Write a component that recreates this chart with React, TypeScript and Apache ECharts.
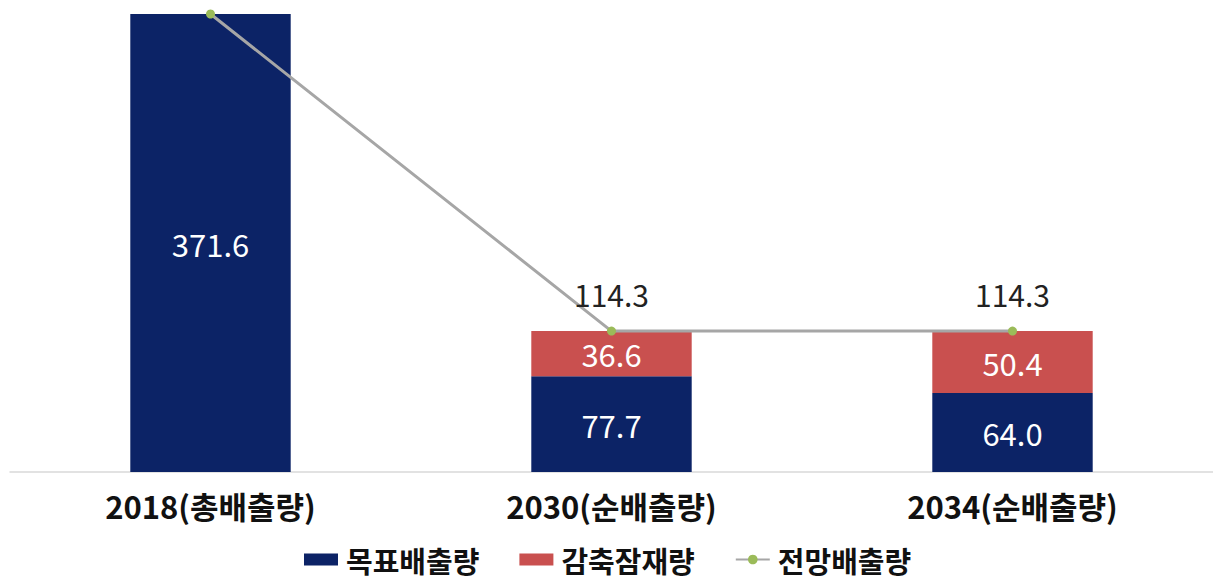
import React, { useEffect, useRef } from "react";
import * as echarts from "echarts";

const categories = ["2018(총배출량)", "2030(순배출량)", "2034(순배출량)"];
const targetEmission = [371.6, 77.7, 64.0];
const reductionPotential = [null, 36.6, 50.4];
const projectedEmission = [371.6, 114.3, 114.3];
const projectedLabelShown = [false, true, true];

const FONT = "'Noto Sans CJK KR', 'Noto Sans', sans-serif";

export default function App() {
  const ref = useRef<HTMLDivElement>(null);
  useEffect(() => {
    if (!ref.current) return;
    const chart = echarts.init(ref.current, null, { renderer: "svg" });
    const barLabel = {
      show: true,
      position: "inside",
      color: "#ffffff",
      fontSize: 31,
      fontFamily: FONT,
      fontWeight: "normal",
      formatter: (p: any) => (p.value == null ? "" : Number(p.value).toFixed(1)),
    };
    chart.setOption({
      animation: false,
      backgroundColor: "#ffffff",
      grid: { left: 10, right: 0, top: 14, bottom: 108, containLabel: false },
      legend: {
        top: 545,
        left: 304,
        padding: 0,
        itemWidth: 34,
        itemHeight: 12,
        itemGap: 40,
        textStyle: { fontSize: 29, lineHeight: 29, fontWeight: "bold", fontFamily: FONT, color: "#111", padding: [0, 0, 0, 3] },
        data: [
          { name: "목표배출량", icon: "rect" },
          { name: "감축잠재량", icon: "rect" },
          { name: "전망배출량" },
        ],
      },
      xAxis: {
        type: "category",
        data: categories,
        axisLine: { show: true, lineStyle: { color: "#D9D9D9", width: 1.5 } },
        axisTick: { show: false },
        axisLabel: {
          fontSize: 31,
          fontWeight: "bold",
          fontFamily: FONT,
          color: "#111",
          margin: 18,
        },
      },
      yAxis: {
        type: "value",
        min: 0,
        max: 371.6,
        show: false,
        splitLine: { show: false },
      },
      series: [
        {
          name: "목표배출량",
          type: "bar",
          stack: "total",
          barWidth: "40%",
          data: targetEmission,
          itemStyle: { color: "#0C2366" },
          label: barLabel,
        },
        {
          name: "감축잠재량",
          type: "bar",
          stack: "total",
          barWidth: "40%",
          data: reductionPotential,
          itemStyle: { color: "#C9504F" },
          label: barLabel,
        },
        {
          name: "전망배출량",
          type: "line",
          data: projectedEmission.map((v, i) => ({
            value: v,
            label: { show: projectedLabelShown[i] },
          })),
          symbol: "circle",
          symbolSize: 9,
          lineStyle: { color: "#A6A6A6", width: 3 },
          itemStyle: { color: "#9BBB59" },
          z: 5,
          label: {
            position: "top",
            distance: 18,
            fontSize: 30,
            fontFamily: FONT,
            color: "#222",
            formatter: (p: any) => Number(p.value).toFixed(1),
          },
        },
      ],
    });
    return () => chart.dispose();
  }, []);
  return (
    <div
      ref={ref}
      style={{ position: "fixed", left: 0, top: 0, width: 1213, height: 580 }}
    />
  );
}
